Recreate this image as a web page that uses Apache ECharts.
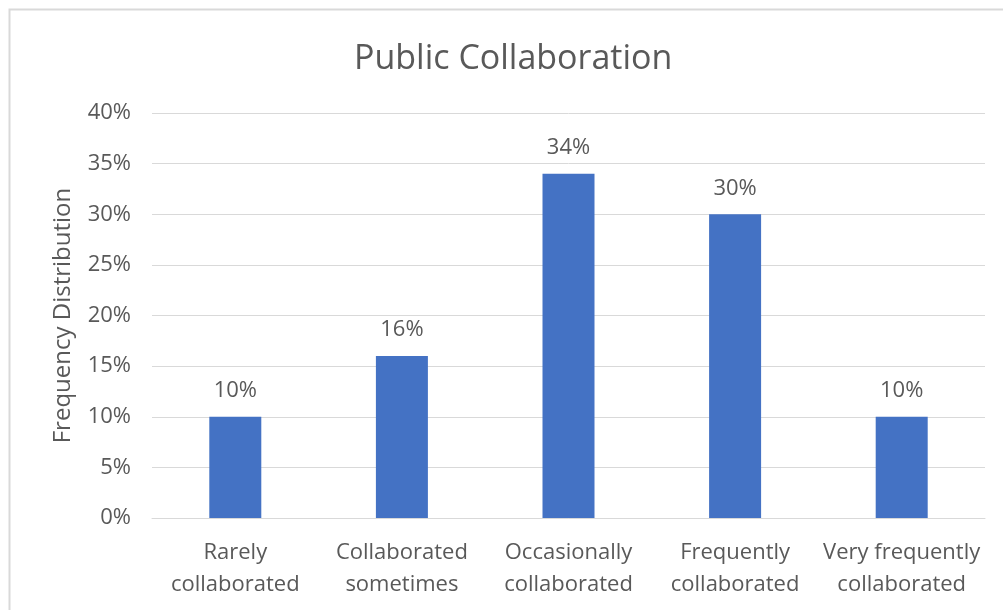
<!DOCTYPE html>
<html>
<head>
<meta charset="utf-8">
<script src="https://cdn.jsdelivr.net/npm/echarts@6/dist/echarts.min.js"></script>
<style>
  html, body { margin: 0; padding: 0; background: #fff; }
  #chart { width: 1003px; height: 610px; }
</style>
</head>
<body>
<div id="chart"></div>
<script>
// Survey responses: how often respondents collaborated publicly
const categories = [
  'Rarely\ncollaborated',
  'Collaborated\nsometimes',
  'Occasionally\ncollaborated',
  'Frequently\ncollaborated',
  'Very frequently\ncollaborated'
];
const frequencies = [10, 16, 34, 30, 10];
const yTicks = [0, 5, 10, 15, 20, 25, 30, 35, 40];

const textColor = '#595959';
const fontFamily = '"Open Sans", "Noto Sans", sans-serif';

const chart = echarts.init(document.getElementById('chart'));
chart.setOption({
  animation: false,
  textStyle: { fontFamily: fontFamily },
  graphic: [{
    type: 'rect',
    shape: { x: 9.5, y: 9.5, width: 1010, height: 620 },
    style: { fill: 'none', stroke: '#d9d9d9', lineWidth: 2 },
    silent: true
  }],
  title: {
    text: 'Public Collaboration',
    left: 349,
    top: 37,
    textStyle: { color: textColor, fontSize: 34, fontWeight: 'normal', fontFamily: fontFamily }
  },
  grid: { left: 152, right: 18, top: 113, bottom: 92 },
  xAxis: {
    type: 'category',
    data: categories,
    axisLine: { show: true, lineStyle: { color: '#d9d9d9', width: 1 } },
    axisTick: { show: false },
    axisLabel: {
      color: textColor, fontSize: 22, lineHeight: 32, margin: 19,
      interval: 0, fontFamily: fontFamily
    }
  },
  yAxis: {
    type: 'value',
    min: yTicks[0],
    max: yTicks[yTicks.length - 1],
    interval: yTicks[1] - yTicks[0],
    name: 'Frequency Distribution',
    nameLocation: 'middle',
    nameGap: 77,
    nameTextStyle: { color: textColor, fontSize: 24, fontFamily: fontFamily },
    axisLine: { show: false },
    axisTick: { show: false },
    axisLabel: {
      color: textColor, fontSize: 22, margin: 21, fontFamily: fontFamily,
      formatter: v => v + '%'
    },
    splitLine: { lineStyle: { color: '#d9d9d9', width: 1 } }
  },
  series: [{
    type: 'bar',
    data: frequencies,
    barWidth: 52,
    itemStyle: { color: '#4472C4' },
    label: {
      show: true,
      position: 'top',
      distance: 15,
      color: textColor,
      fontSize: 22,
      fontFamily: fontFamily,
      formatter: p => p.value + '%'
    }
  }]
});
</script>
</body>
</html>
